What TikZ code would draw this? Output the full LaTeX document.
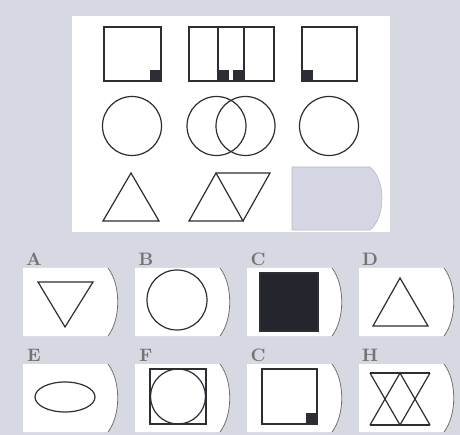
\documentclass[tikz,border=0pt]{standalone}
\usepackage{fontspec}
\definecolor{cbg}{RGB}{214,216,226}
\definecolor{cink}{RGB}{45,45,52}
\definecolor{cblank}{RGB}{212,214,228}
\definecolor{cfill}{RGB}{36,38,46}
\tikzset{puzzle/.style={x=1pt,y=-1pt},
  shp/.style={draw=cink,line width=1.2pt},
  optlbl/.style={font=\bfseries,scale=1.8,text=black!55,inner sep=0pt}}

\begin{document}
\begin{tikzpicture}[puzzle]
    \useasboundingbox (0,0) rectangle (460,435);
    \fill[cbg] (0,0) rectangle (460,435);
    % question panel
    \fill[white] (72,16) rectangle (390,232);
    \draw[shp] (104,27) rectangle (161,81);
    \fill[cink] (150,70) rectangle (161,81);
    \draw[shp] (189,27) rectangle (244,81);
    \draw[shp] (218,27) rectangle (274,81);
    \fill[cink] (233,70) rectangle (244,81);
    \fill[cink] (218,70) rectangle (229,81);
    \draw[shp] (302,27) rectangle (357,81);
    \fill[cink] (302,70) rectangle (313,81);
    \foreach \cx in {132,216.5,245.5,329} \draw[shp] (\cx,126) circle (29.5pt);
    \draw[shp] (103,221) -- (131,173) -- (159,221) -- cycle;
    \draw[shp] (189,221) -- (216,173) -- (243,221) -- cycle;
    \draw[shp] (216,173) -- (270,173) -- (243,221);
    \filldraw[fill=cblank,draw=gray!55,line width=0.6pt] (292,167) -- (370,167)
        .. controls (386,180) and (386,217) .. (370,230) -- (292,230) -- cycle;
    % answer boxes
    \foreach \lbl/\px/\py in {A/23/268,B/135/268,C/247/268,D/359/268,
                              E/23/364,F/135/364,C/247/364,H/359/364} {
      \fill[white] (\px,\py) -- ({\px+85},\py)
          .. controls ({\px+98},{\py+17}) and ({\px+98},{\py+51}) .. ({\px+85},{\py+68})
          -- (\px,{\py+68}) -- cycle;
      \draw[black!55,line width=0.8pt] ({\px+85},\py)
          .. controls ({\px+98},{\py+17}) and ({\px+98},{\py+51}) .. ({\px+85},{\py+68});
      \node[optlbl] (lbl\px-\py) at ({\px+11},{\py-9}) {\lbl};
    }
    \draw[shp] (38,282) -- (93,282) -- (65,327) -- cycle;
    \draw[shp] (177,300) circle (30pt);
    \filldraw[fill=cfill,draw=cink,line width=1.1pt] (260,273) rectangle (318,331);
    \draw[shp] (400,278) -- (428,326) -- (373,326) -- cycle;
    \draw[shp] (65,397) ellipse (30pt and 15pt);
    \draw[shp] (150,369) rectangle (206,424);
    \draw[shp] (178,396.5) circle (27.5pt);
    \draw[shp] (262,369) rectangle (317,424);
    \fill[cink] (306,413) rectangle (317,424);
    \draw[shp] (370,373) -- (430,373);
    \draw[shp] (370,425) -- (430,425);
    \draw[shp] (370,373) -- (400,425) -- (430,373);
    \draw[shp] (370,425) -- (400,373) -- (430,425);
\end{tikzpicture}
\end{document}
